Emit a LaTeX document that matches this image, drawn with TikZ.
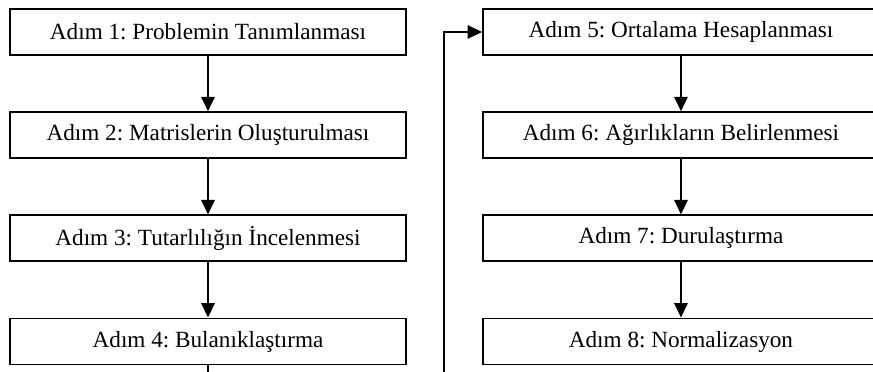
\documentclass[tikz,border=0pt]{standalone}
\usepackage{fontspec}
\setmainfont{Liberation Serif}
\usetikzlibrary{calc, positioning, arrows.meta}
\frenchspacing

\begin{document}
\begin{tikzpicture}[
    >={Triangle[length=0.36cm, width=0.34cm]},
    line width=0.8pt,
    stepbox/.style={draw, line width=1.4pt, minimum width=9.9cm, minimum height=1.15cm, font=\fontsize{16.5}{19}\selectfont, inner sep=0pt},
    node distance=1.38cm
]

    % Frame (the figure is cut off at the bottom and right)
    \useasboundingbox (0,0) rectangle (21.825,-9.3);
    \clip (0,0) rectangle (21.825,-9.3);

    % Left column
    \node[stepbox] (adim1) at (5.2,-0.8) {Adım 1: Problemin Tanımlanması};
    \node[stepbox, below=of adim1] (adim2) {Adım 2: Matrislerin Oluşturulması};
    \node[stepbox, below=of adim2] (adim3) {Adım 3: Tutarlılığın İncelenmesi};
    \node[stepbox, below=of adim3] (adim4) {Adım 4: Bulanıklaştırma};

    % Right column
    \node[stepbox, right=1.875cm of adim1] (adim5) {Adım 5: Ortalama Hesaplanması};
    \node[stepbox, below=of adim5] (adim6) {Adım 6: Ağırlıkların Belirlenmesi};
    \node[stepbox, below=of adim6] (adim7) {Adım 7: Durulaştırma};
    \node[stepbox, below=of adim7] (adim8) {Adım 8: Normalizasyon};

    % Arrows down each column
    \foreach \a/\b in {adim1/adim2, adim2/adim3, adim3/adim4, adim5/adim6, adim6/adim7, adim7/adim8} {
        \draw[->] (\a) -- (\b);
    }

    % Step 4 back up to step 5
    \coordinate (bend) at ($(adim5.west) + (-0.95, 0)$);
    \draw[->] (adim4.south) -- ++(0,-0.8) coordinate (low) -| (bend) -- (adim5.west);

\end{tikzpicture}
\end{document}
